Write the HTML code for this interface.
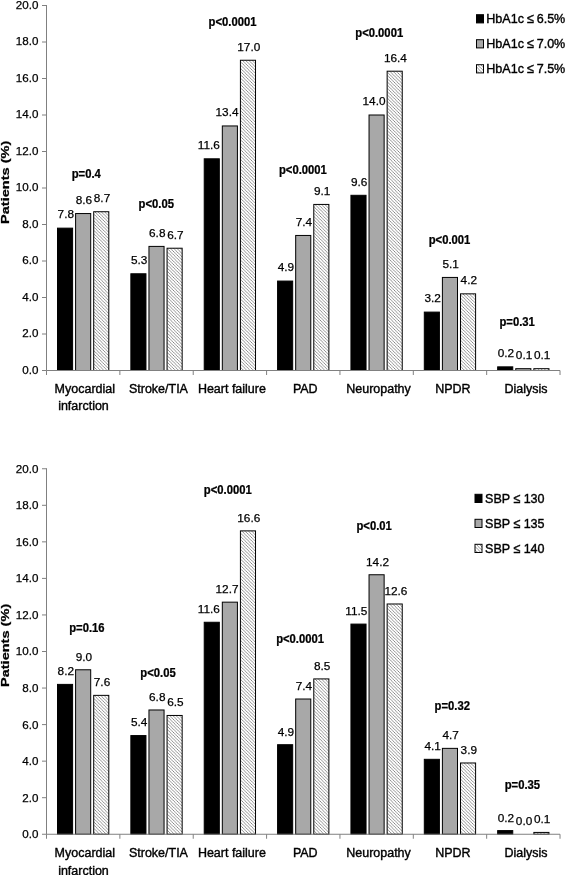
<!DOCTYPE html>
<html lang="en"><head><meta charset="utf-8"><title>Patients (%) by HbA1c and SBP targets</title>
<style>html,body{margin:0;padding:0;background:#fff}body{width:565px;height:875px;overflow:hidden}svg{display:block;will-change:transform}text{font-family:"Liberation Sans",Arial,Helvetica,sans-serif;fill:#000;stroke:#000;stroke-width:0.25px}.t{font-size:11.6px}.c{font-size:13.3px;stroke-width:0.4px}.v{font-size:11.8px}.p{font-size:12px;font-weight:bold}.l{font-size:13.6px;stroke-width:0.4px}.y{font-size:11.8px;font-weight:bold}</style></head><body>
<svg width="565" height="875" viewBox="0 0 565 875">
<defs><pattern id="h" width="3.25" height="3.25" patternUnits="userSpaceOnUse"><rect width="3.25" height="3.25" fill="#fff"/><path d="M-1,-1 L4.25,4.25 M-1,2.25 L1,4.25 M2.25,-1 L4.25,1" stroke="#787878" stroke-width="0.8"/></pattern></defs>
<rect width="565" height="875" fill="#fff"/>
<g id="chart1">
<rect x="57.50" y="228.15" width="15.1" height="142.35" fill="#000" stroke="#000" stroke-width="1"/>
<rect x="75.60" y="213.55" width="15.1" height="156.95" fill="#a8a8a8" stroke="#000" stroke-width="1"/>
<rect x="93.70" y="211.73" width="15.1" height="158.77" fill="url(#h)" stroke="#000" stroke-width="1"/>
<rect x="130.86" y="273.77" width="15.1" height="96.72" fill="#000" stroke="#000" stroke-width="1"/>
<rect x="148.96" y="246.40" width="15.1" height="124.10" fill="#a8a8a8" stroke="#000" stroke-width="1"/>
<rect x="167.06" y="248.22" width="15.1" height="122.28" fill="url(#h)" stroke="#000" stroke-width="1"/>
<rect x="204.22" y="158.80" width="15.1" height="211.70" fill="#000" stroke="#000" stroke-width="1"/>
<rect x="222.32" y="125.95" width="15.1" height="244.55" fill="#a8a8a8" stroke="#000" stroke-width="1"/>
<rect x="240.42" y="60.25" width="15.1" height="310.25" fill="url(#h)" stroke="#000" stroke-width="1"/>
<rect x="277.58" y="281.07" width="15.1" height="89.43" fill="#000" stroke="#000" stroke-width="1"/>
<rect x="295.68" y="235.45" width="15.1" height="135.05" fill="#a8a8a8" stroke="#000" stroke-width="1"/>
<rect x="313.78" y="204.43" width="15.1" height="166.07" fill="url(#h)" stroke="#000" stroke-width="1"/>
<rect x="350.94" y="195.30" width="15.1" height="175.20" fill="#000" stroke="#000" stroke-width="1"/>
<rect x="369.04" y="115.00" width="15.1" height="255.50" fill="#a8a8a8" stroke="#000" stroke-width="1"/>
<rect x="387.14" y="71.20" width="15.1" height="299.30" fill="url(#h)" stroke="#000" stroke-width="1"/>
<rect x="424.30" y="312.10" width="15.1" height="58.40" fill="#000" stroke="#000" stroke-width="1"/>
<rect x="442.40" y="277.43" width="15.1" height="93.07" fill="#a8a8a8" stroke="#000" stroke-width="1"/>
<rect x="460.50" y="293.85" width="15.1" height="76.65" fill="url(#h)" stroke="#000" stroke-width="1"/>
<rect x="497.66" y="366.85" width="15.1" height="3.65" fill="#000" stroke="#000" stroke-width="1"/>
<rect x="515.76" y="368.68" width="15.1" height="1.83" fill="#a8a8a8" stroke="#000" stroke-width="1"/>
<rect x="533.86" y="368.68" width="15.1" height="1.83" fill="url(#h)" stroke="#000" stroke-width="1"/>
<path d="M46.5,5.0 V370.5 H560.02" fill="none" stroke="#808080" stroke-width="1"/>
<path d="M42.0,370.50 H46.5 M42.0,334.00 H46.5 M42.0,297.50 H46.5 M42.0,261.00 H46.5 M42.0,224.50 H46.5 M42.0,188.00 H46.5 M42.0,151.50 H46.5 M42.0,115.00 H46.5 M42.0,78.50 H46.5 M42.0,42.00 H46.5 M42.0,5.50 H46.5 M46.50,370.5 V375.0 M119.86,370.5 V375.0 M193.22,370.5 V375.0 M266.58,370.5 V375.0 M339.94,370.5 V375.0 M413.30,370.5 V375.0 M486.66,370.5 V375.0 M560.02,370.5 V375.0 " fill="none" stroke="#808080" stroke-width="1"/>
<text class="v" x="65.80" y="218.45" text-anchor="middle">7.8</text>
<text class="v" x="83.90" y="203.85" text-anchor="middle">8.6</text>
<text class="v" x="102.00" y="202.03" text-anchor="middle">8.7</text>
<text class="v" x="139.16" y="264.07" text-anchor="middle">5.3</text>
<text class="v" x="157.26" y="236.70" text-anchor="middle">6.8</text>
<text class="v" x="175.36" y="238.53" text-anchor="middle">6.7</text>
<text class="v" x="208.80" y="149.10" text-anchor="middle">11.6</text>
<text class="v" x="227.05" y="116.25" text-anchor="middle">13.4</text>
<text class="v" x="248.80" y="50.55" text-anchor="middle">17.0</text>
<text class="v" x="285.88" y="271.38" text-anchor="middle">4.9</text>
<text class="v" x="303.98" y="225.75" text-anchor="middle">7.4</text>
<text class="v" x="322.08" y="194.73" text-anchor="middle">9.1</text>
<text class="v" x="359.24" y="185.60" text-anchor="middle">9.6</text>
<text class="v" x="374.00" y="105.30" text-anchor="middle">14.0</text>
<text class="v" x="395.40" y="61.50" text-anchor="middle">16.4</text>
<text class="v" x="432.60" y="302.40" text-anchor="middle">3.2</text>
<text class="v" x="450.70" y="267.73" text-anchor="middle">5.1</text>
<text class="v" x="468.80" y="284.15" text-anchor="middle">4.2</text>
<text class="v" x="505.96" y="357.15" text-anchor="middle">0.2</text>
<text class="v" x="524.06" y="358.98" text-anchor="middle">0.1</text>
<text class="v" x="542.16" y="358.98" text-anchor="middle">0.1</text>
<text class="t" x="38.40" y="373.90" text-anchor="end">0.0</text>
<text class="t" x="38.40" y="337.40" text-anchor="end">2.0</text>
<text class="t" x="38.40" y="300.90" text-anchor="end">4.0</text>
<text class="t" x="38.40" y="264.40" text-anchor="end">6.0</text>
<text class="t" x="38.40" y="227.90" text-anchor="end">8.0</text>
<text class="t" x="38.40" y="191.40" text-anchor="end">10.0</text>
<text class="t" x="38.40" y="154.90" text-anchor="end">12.0</text>
<text class="t" x="38.40" y="118.40" text-anchor="end">14.0</text>
<text class="t" x="38.40" y="81.90" text-anchor="end">16.0</text>
<text class="t" x="38.40" y="45.40" text-anchor="end">18.0</text>
<text class="t" x="38.40" y="8.90" text-anchor="end">20.0</text>
<text class="c" transform="translate(84.78,392.60) scale(0.94,1)" text-anchor="middle">Myocardial</text>
<text class="c" transform="translate(83.48,410.40) scale(0.94,1)" text-anchor="middle">infarction</text>
<text class="c" transform="translate(158.44,392.60) scale(0.94,1)" text-anchor="middle">Stroke/TIA</text>
<text class="c" transform="translate(231.90,392.60) scale(0.94,1)" text-anchor="middle">Heart failure</text>
<text class="c" transform="translate(305.26,392.60) scale(0.94,1)" text-anchor="middle">PAD</text>
<text class="c" transform="translate(378.52,392.60) scale(0.94,1)" text-anchor="middle">Neuropathy</text>
<text class="c" transform="translate(452.88,392.60) scale(0.94,1)" text-anchor="middle">NPDR</text>
<text class="c" transform="translate(526.04,392.60) scale(0.94,1)" text-anchor="middle">Dialysis</text>
<text class="p" transform="translate(86.25,178.30) scale(0.94,1)" text-anchor="middle">p=0.4</text>
<text class="p" transform="translate(156.30,207.70) scale(0.94,1)" text-anchor="middle">p&lt;0.05</text>
<text class="p" transform="translate(232.50,25.50) scale(0.94,1)" text-anchor="middle">p&lt;0.0001</text>
<text class="p" transform="translate(302.90,173.80) scale(0.94,1)" text-anchor="middle">p&lt;0.0001</text>
<text class="p" transform="translate(379.20,36.80) scale(0.94,1)" text-anchor="middle">p&lt;0.0001</text>
<text class="p" transform="translate(449.50,244.10) scale(0.94,1)" text-anchor="middle">p&lt;0.001</text>
<text class="p" transform="translate(517.10,325.90) scale(0.94,1)" text-anchor="middle">p=0.31</text>
<text class="y" transform="translate(9.0,182.3) rotate(-90) scale(1.234,1)" text-anchor="middle">Patients (%)</text>
<rect x="476.5" y="14.70" width="7" height="8.2" fill="#000" stroke="#000" stroke-width="1"/>
<text class="l" transform="translate(486.30,22.60) scale(0.925,1)">HbA1c<tspan dx="-0.6"> ≤</tspan><tspan dx="-0.7"> 6.5%</tspan></text>
<rect x="476.5" y="39.70" width="7" height="8.2" fill="#a8a8a8" stroke="#000" stroke-width="1"/>
<text class="l" transform="translate(486.30,47.60) scale(0.925,1)">HbA1c<tspan dx="-0.6"> ≤</tspan><tspan dx="-0.7"> 7.0%</tspan></text>
<rect x="476.5" y="64.70" width="7" height="8.2" fill="url(#h)" stroke="#000" stroke-width="1"/>
<text class="l" transform="translate(486.30,72.60) scale(0.925,1)">HbA1c<tspan dx="-0.6"> ≤</tspan><tspan dx="-0.7"> 7.5%</tspan></text>
</g>
<g id="chart2">
<rect x="57.50" y="684.39" width="15.1" height="149.85" fill="#000" stroke="#000" stroke-width="1"/>
<rect x="75.60" y="669.77" width="15.1" height="164.47" fill="#a8a8a8" stroke="#000" stroke-width="1"/>
<rect x="93.70" y="695.36" width="15.1" height="138.89" fill="url(#h)" stroke="#000" stroke-width="1"/>
<rect x="130.86" y="735.57" width="15.1" height="98.69" fill="#000" stroke="#000" stroke-width="1"/>
<rect x="148.96" y="709.98" width="15.1" height="124.27" fill="#a8a8a8" stroke="#000" stroke-width="1"/>
<rect x="167.06" y="715.46" width="15.1" height="118.79" fill="url(#h)" stroke="#000" stroke-width="1"/>
<rect x="204.22" y="622.26" width="15.1" height="211.99" fill="#000" stroke="#000" stroke-width="1"/>
<rect x="222.32" y="602.16" width="15.1" height="232.09" fill="#a8a8a8" stroke="#000" stroke-width="1"/>
<rect x="240.42" y="530.88" width="15.1" height="303.37" fill="url(#h)" stroke="#000" stroke-width="1"/>
<rect x="277.58" y="744.70" width="15.1" height="89.55" fill="#000" stroke="#000" stroke-width="1"/>
<rect x="295.68" y="699.01" width="15.1" height="135.23" fill="#a8a8a8" stroke="#000" stroke-width="1"/>
<rect x="313.78" y="678.91" width="15.1" height="155.34" fill="url(#h)" stroke="#000" stroke-width="1"/>
<rect x="350.94" y="624.09" width="15.1" height="210.16" fill="#000" stroke="#000" stroke-width="1"/>
<rect x="369.04" y="574.75" width="15.1" height="259.50" fill="#a8a8a8" stroke="#000" stroke-width="1"/>
<rect x="387.14" y="603.99" width="15.1" height="230.26" fill="url(#h)" stroke="#000" stroke-width="1"/>
<rect x="424.30" y="759.32" width="15.1" height="74.93" fill="#000" stroke="#000" stroke-width="1"/>
<rect x="442.40" y="748.36" width="15.1" height="85.89" fill="#a8a8a8" stroke="#000" stroke-width="1"/>
<rect x="460.50" y="762.98" width="15.1" height="71.27" fill="url(#h)" stroke="#000" stroke-width="1"/>
<rect x="497.66" y="830.60" width="15.1" height="3.65" fill="#000" stroke="#000" stroke-width="1"/>
<rect x="533.86" y="832.42" width="15.1" height="1.83" fill="url(#h)" stroke="#000" stroke-width="1"/>
<path d="M46.5,468.25 V834.25 H560.02" fill="none" stroke="#808080" stroke-width="1"/>
<path d="M42.0,834.25 H46.5 M42.0,797.70 H46.5 M42.0,761.15 H46.5 M42.0,724.60 H46.5 M42.0,688.05 H46.5 M42.0,651.50 H46.5 M42.0,614.95 H46.5 M42.0,578.40 H46.5 M42.0,541.85 H46.5 M42.0,505.30 H46.5 M42.0,468.75 H46.5 M46.50,834.25 V838.75 M119.86,834.25 V838.75 M193.22,834.25 V838.75 M266.58,834.25 V838.75 M339.94,834.25 V838.75 M413.30,834.25 V838.75 M486.66,834.25 V838.75 M560.02,834.25 V838.75 " fill="none" stroke="#808080" stroke-width="1"/>
<text class="v" x="65.80" y="675.29" text-anchor="middle">8.2</text>
<text class="v" x="83.90" y="660.67" text-anchor="middle">9.0</text>
<text class="v" x="102.00" y="686.26" text-anchor="middle">7.6</text>
<text class="v" x="139.16" y="726.47" text-anchor="middle">5.4</text>
<text class="v" x="157.26" y="700.88" text-anchor="middle">6.8</text>
<text class="v" x="175.36" y="706.36" text-anchor="middle">6.5</text>
<text class="v" x="208.80" y="613.16" text-anchor="middle">11.6</text>
<text class="v" x="227.05" y="593.06" text-anchor="middle">12.7</text>
<text class="v" x="248.80" y="521.78" text-anchor="middle">16.6</text>
<text class="v" x="285.88" y="735.60" text-anchor="middle">4.9</text>
<text class="v" x="303.98" y="689.91" text-anchor="middle">7.4</text>
<text class="v" x="322.08" y="669.81" text-anchor="middle">8.5</text>
<text class="v" x="356.30" y="614.99" text-anchor="middle">11.5</text>
<text class="v" x="377.55" y="565.65" text-anchor="middle">14.2</text>
<text class="v" x="395.90" y="594.88" text-anchor="middle">12.6</text>
<text class="v" x="432.60" y="750.22" text-anchor="middle">4.1</text>
<text class="v" x="450.70" y="739.26" text-anchor="middle">4.7</text>
<text class="v" x="468.80" y="753.88" text-anchor="middle">3.9</text>
<text class="v" x="505.96" y="821.50" text-anchor="middle">0.2</text>
<text class="v" x="524.06" y="825.15" text-anchor="middle">0.0</text>
<text class="v" x="542.16" y="823.32" text-anchor="middle">0.1</text>
<text class="t" x="38.40" y="838.15" text-anchor="end">0.0</text>
<text class="t" x="38.40" y="801.60" text-anchor="end">2.0</text>
<text class="t" x="38.40" y="765.05" text-anchor="end">4.0</text>
<text class="t" x="38.40" y="728.50" text-anchor="end">6.0</text>
<text class="t" x="38.40" y="691.95" text-anchor="end">8.0</text>
<text class="t" x="38.40" y="655.40" text-anchor="end">10.0</text>
<text class="t" x="38.40" y="618.85" text-anchor="end">12.0</text>
<text class="t" x="38.40" y="582.30" text-anchor="end">14.0</text>
<text class="t" x="38.40" y="545.75" text-anchor="end">16.0</text>
<text class="t" x="38.40" y="509.20" text-anchor="end">18.0</text>
<text class="t" x="38.40" y="472.65" text-anchor="end">20.0</text>
<text class="c" transform="translate(84.78,857.00) scale(0.94,1)" text-anchor="middle">Myocardial</text>
<text class="c" transform="translate(83.48,874.80) scale(0.94,1)" text-anchor="middle">infarction</text>
<text class="c" transform="translate(158.44,857.00) scale(0.94,1)" text-anchor="middle">Stroke/TIA</text>
<text class="c" transform="translate(231.90,857.00) scale(0.94,1)" text-anchor="middle">Heart failure</text>
<text class="c" transform="translate(305.26,857.00) scale(0.94,1)" text-anchor="middle">PAD</text>
<text class="c" transform="translate(378.52,857.00) scale(0.94,1)" text-anchor="middle">Neuropathy</text>
<text class="c" transform="translate(452.88,857.00) scale(0.94,1)" text-anchor="middle">NPDR</text>
<text class="c" transform="translate(526.04,857.00) scale(0.94,1)" text-anchor="middle">Dialysis</text>
<text class="p" transform="translate(86.90,632.10) scale(0.94,1)" text-anchor="middle">p=0.16</text>
<text class="p" transform="translate(158.00,676.60) scale(0.94,1)" text-anchor="middle">p&lt;0.05</text>
<text class="p" transform="translate(227.80,494.30) scale(0.94,1)" text-anchor="middle">p&lt;0.0001</text>
<text class="p" transform="translate(300.10,642.90) scale(0.94,1)" text-anchor="middle">p&lt;0.0001</text>
<text class="p" transform="translate(374.10,530.20) scale(0.94,1)" text-anchor="middle">p&lt;0.01</text>
<text class="p" transform="translate(452.25,709.70) scale(0.94,1)" text-anchor="middle">p=0.32</text>
<text class="p" transform="translate(522.40,789.40) scale(0.94,1)" text-anchor="middle">p=0.35</text>
<text class="y" transform="translate(9.0,645.4) rotate(-90) scale(1.234,1)" text-anchor="middle">Patients (%)</text>
<rect x="475.0" y="494.30" width="7" height="8.2" fill="#000" stroke="#000" stroke-width="1"/>
<text class="l" transform="translate(485.00,502.80) scale(0.925,1)">SBP<tspan dx="0"> ≤</tspan><tspan dx="-0.4"> 130</tspan></text>
<rect x="475.0" y="519.30" width="7" height="8.2" fill="#a8a8a8" stroke="#000" stroke-width="1"/>
<text class="l" transform="translate(485.00,527.80) scale(0.925,1)">SBP<tspan dx="0"> ≤</tspan><tspan dx="-0.4"> 135</tspan></text>
<rect x="475.0" y="544.30" width="7" height="8.2" fill="url(#h)" stroke="#000" stroke-width="1"/>
<text class="l" transform="translate(485.00,552.80) scale(0.925,1)">SBP<tspan dx="0"> ≤</tspan><tspan dx="-0.4"> 140</tspan></text>
</g>
</svg></body></html>
